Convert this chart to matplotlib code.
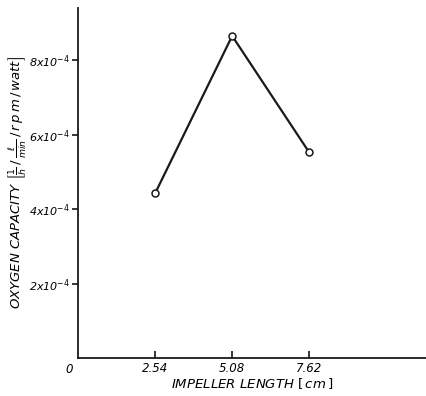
import matplotlib
matplotlib.use("Agg")
import matplotlib.pyplot as plt

plt.rcParams['mathtext.fontset'] = 'dejavusans'
plt.rcParams['font.family'] = 'DejaVu Sans'

# impeller length [cm] vs oxygen capacity
impeller_len = [2.54, 5.08, 7.62]
oxygen_cap = [4.42e-4, 8.65e-4, 5.52e-4]

xtick_vals = [2.54, 5.08, 7.62]
xtick_text = ['2.54', '5.08', '7.62']
ytick_vals = [2e-4, 4e-4, 6e-4, 8e-4]
ytick_text = [r'2x10$^{-4}$', r'4x10$^{-4}$', r'6x10$^{-4}$', r'8x10$^{-4}$']

fig = plt.figure(figsize=(4.27, 3.96), dpi=100)
ax = fig.add_axes([78 / 427, 1 - 358 / 396, 349 / 427, 350 / 396])

ax.plot(impeller_len, oxygen_cap, color='#1a1a1a', lw=1.6, zorder=2)
ax.plot(impeller_len, oxygen_cap, 'o', ms=5, mfc='white', mec='#1a1a1a',
        mew=1.1, zorder=3)

ax.set_xlim(0, 11.5)
ax.set_ylim(0, 9.4e-4)

ax.spines['top'].set_visible(False)
ax.spines['right'].set_visible(False)
for s in ('left', 'bottom'):
    ax.spines[s].set_linewidth(1.3)
    ax.spines[s].set_color('#1a1a1a')

ax.set_xticks(xtick_vals)
ax.set_xticklabels(xtick_text, style='italic', fontsize=8.5)
ax.set_yticks(ytick_vals)
ax.set_yticklabels(ytick_text, style='italic', fontsize=8)
ax.tick_params(axis='x', direction='in', length=5, width=1.1, pad=3)
ax.tick_params(axis='y', direction='out', length=4, width=1.1, pad=2)

ax.text(-0.025, -0.015, '0', transform=ax.transAxes, style='italic',
        fontsize=8.5, ha='center', va='top')

ax.set_xlabel(r'IMPELLER LENGTH $\left[\,cm\,\right]$', style='italic',
              fontsize=9.5, labelpad=1)
ax.set_ylabel(r'OXYGEN CAPACITY $\left[\frac{1}{h}\,/\,\frac{\ell}{min}\,/\,r\,p\,m\,/\,watt\right]$',
              style='italic', fontsize=9.5)
ax.yaxis.set_label_coords(-0.14, 0.5)

fig.savefig('out.png', dpi=100)
